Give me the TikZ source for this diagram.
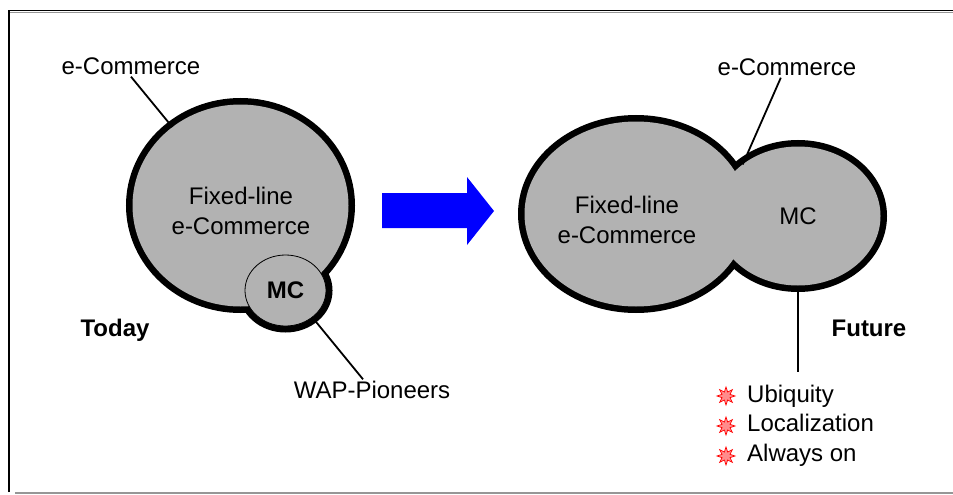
\documentclass[tikz,border=0pt]{standalone}
\usepackage{fontspec}
\setmainfont{Liberation Sans}
\usetikzlibrary{shapes.geometric}
\definecolor{blobgray}{RGB}{178,178,178}
\definecolor{framegray}{RGB}{150,150,150}
\begin{document}
\begin{tikzpicture}[x=1pt,y=-1pt,
  lbl/.style={font=\fontsize{24}{29.5}\selectfont, inner sep=2pt, text height=17pt, text depth=0pt},
  lblb/.style={lbl, font=\fontsize{24}{29.5}\selectfont\bfseries},
  twoline/.style={font=\fontsize{24}{29.5}\selectfont, align=center, inner sep=0pt},
  rim/.style={ellipse, draw=black, line width=13pt, fill=blobgray, inner sep=0pt, outer sep=0pt},
  blob/.style={ellipse, fill=blobgray, inner sep=0pt, outer sep=0pt},
  wire/.style={draw=black, line width=1.8pt},
  bstar/.style={star, star points=8, star point ratio=2.1, minimum size=18pt, draw=red, fill=red!45, line width=0.7pt, inner sep=0pt}]
\useasboundingbox (0,0) rectangle (953,495);
% frame
\draw[black, line width=1.3pt] (9,492) -- (9,10.8) -- (953,10.8);
\draw[framegray, line width=1.2pt] (10,12.8) -- (953,12.8);
\draw[framegray, line width=2pt] (15,493) -- (953,493);
% left: today
\node[rim, minimum width=216, minimum height=202] (Lrim) at (240.5,205.5) {};
\node[rim, minimum width=81, minimum height=71] (Mrim) at (285.5,290.5) {};
\node[blob, minimum width=216, minimum height=202] (L) at (240.5,205.5) {};
\node[blob, draw=black, line width=0.8pt, minimum width=81, minimum height=71, font=\fontsize{24}{29.5}\selectfont\bfseries] (M) at (285.5,290.5) {MC};
\node[twoline] (ftl) at (241,211) {Fixed-line\\e-Commerce};
\node[lbl] (ecl) at (131,66) {e-Commerce};
\node[lblb] (today) at (115,328) {Today};
\node[lbl] (wap) at (372,390) {WAP-Pioneers};
\draw[wire] (ecl.south) -- (Lrim.131);
\draw[wire] (M.-45) -- (wap.130);
% arrow
\fill[blue] (382,193) -- (467,193) -- (467,177) -- (494,211) -- (467,245) -- (467,228) -- (382,228) -- cycle;
% right: future
\node[rim, minimum width=223, minimum height=185] (Brim) at (636,214) {};
\node[rim, minimum width=165, minimum height=139] (Srim) at (798,216) {};
\node[blob, minimum width=223, minimum height=185] (B) at (636,214) {};
\node[blob, minimum width=165, minimum height=139, font=\fontsize{24}{29.5}\selectfont] (S) at (798,216) {MC};
\node[twoline] (ftr) at (627,220) {Fixed-line\\e-Commerce};
\node[lbl] (ecr) at (787,67) {e-Commerce};
\node[lblb] (future) at (869,328) {Future};
\coordinate (fe) at (798,372);
\draw[wire] (ecr.240) -- (S.137);
\draw[wire] (S.south) -- (fe);
% bullets
\node[bstar] (st1) at (726,396) {};
\node[bstar] (st2) at (726,426) {};
\node[bstar] (st3) at (726,456) {};
\node[font=\fontsize{24}{29.5}\selectfont, anchor=base west, inner sep=0pt] (b1) at (747,402) {Ubiquity};
\node[font=\fontsize{24}{29.5}\selectfont, anchor=base west, inner sep=0pt] (b2) at (747,431.5) {Localization};
\node[font=\fontsize{24}{29.5}\selectfont, anchor=base west, inner sep=0pt] (b3) at (747,461) {Always on};
\end{tikzpicture}
\end{document}
